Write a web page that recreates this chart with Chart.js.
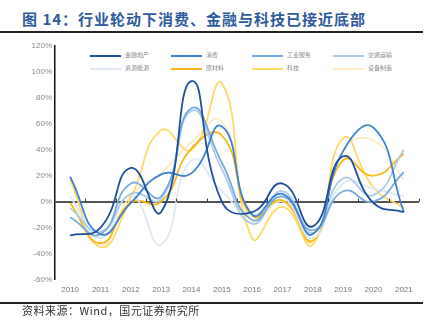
<!DOCTYPE html>
<html>
<head>
<meta charset="utf-8">
<script src="https://cdn.jsdelivr.net/npm/chart.js@4.4.0/dist/chart.umd.min.js"></script>
<style>
  html, body { margin: 0; padding: 0; background: #fff; }
  body { width: 437px; height: 330px; position: relative; overflow: hidden; font-family: "Noto Sans CJK SC", sans-serif; }
  #title { position: absolute; left: 22px; top: 8px; font-size: 15px; font-weight: bold; color: #2F5A9E; white-space: nowrap; letter-spacing: 1px; }
  .rule { position: absolute; left: 0; width: 423px; height: 2px; background: #222; }
  #source { position: absolute; left: 22px; top: 302px; font-size: 11px; color: #333; white-space: nowrap; letter-spacing: 0.5px; }
  #chartBox { position: absolute; left: 0; top: 0; width: 437px; height: 330px; }
  #legend { position: absolute; left: 0; top: 0; }
  .item { position: absolute; height: 8px; font-size: 6px; color: #888; white-space: nowrap; }
  .item span.ln { position: absolute; left: 0; top: 3px; width: 31px; height: 2px; }
  .item span.tx { position: absolute; left: 35px; top: -1px; line-height: 8px; }
</style>
</head>
<body>
<div id="title">图 14：行业轮动下消费、金融与科技已接近底部</div>
<div class="rule" style="top:31px"></div>
<div id="chartBox"><canvas id="chart" width="437" height="330"></canvas></div>
<div id="legend"></div>
<div class="rule" style="top:302px"></div>
<div id="source">资料来源：Wind，国元证券研究所</div>
<script>
// years on the x axis
const years = ['2010', '2011', '2012', '2013', '2014', '2015', '2016', '2017', '2018', '2019', '2020', '2021'];

// yearly values in %
const finance = [-26, -20, 26, -8, 93, 0, -8, 14, -19, 35, -1, -8];
const consumer = [19, -25, -1, 21, 22, 58, -10, 6, -25, 39, 57, -8];
const industrial = [-12, -25, 14, 4, 72, 30, -14, 4, -22, 8, 0, 23];
const transport = [-5, -23, 6, 2, 70, 25, -17, 8, -24, 18, 5, 40];
const energy = [4, -28, 5, -33, 32, 8, -10, 3, -28, 14, 10, 4];
const materials = [-1, -32, -1, 0, 41, 51, -11, 1, -30, 32, 20, 37];
const tech = [17, -35, 3, 55, 40, 91, -28, -4, -33, 49, 11, -5];
const equipment = [18, -33, 5, 22, 46, 62, -15, 0, -31, 40, 47, 17];

const seriesNames = ['金融地产', '消费', '工业服务', '交通运输', '资源能源', '原材料', '科技', '设备制造'];
const seriesData = [finance, consumer, industrial, transport, energy, materials, tech, equipment];
const seriesColors = ['#1F4E9E', '#3D82D4', '#78ABDF', '#ADCBEA', '#DDEAF6', '#F7B817', '#FFD966', '#FDEBC4'];

// legend (2 rows x 4 columns, inside the plot)
const legend = document.getElementById('legend');
seriesNames.forEach((name, i) => {
    const item = document.createElement('div');
    item.className = 'item';
    item.style.left = (90 + (i % 4) * 81) + 'px';
    item.style.top = (52 + Math.floor(i / 4) * 13) + 'px';
    item.innerHTML = `<span class="ln" style="background:${seriesColors[i]}"></span><span class="tx">${name}</span>`;
    legend.appendChild(item);
});

// small tick marks on the zero line, between the years
const zeroTicks = {
    id: 'zeroTicks',
    afterDatasetsDraw(chart) {
        const x = chart.scales.x, y = chart.scales.y;
        const y0 = y.getPixelForValue(0);
        const c = chart.ctx;
        c.save();
        c.strokeStyle = '#333';
        c.lineWidth = 1;
        for (let i = 1; i <= years.length; i++) {
            const px = Math.round((x.getPixelForValue(i - 1) + x.getPixelForValue(i)) / 2) + 0.5;
            c.beginPath();
            c.moveTo(px, y0 - 3);
            c.lineTo(px, y0);
            c.stroke();
        }
        c.restore();
    }
};

const ctx = document.getElementById('chart').getContext('2d');
new Chart(ctx, {
    type: 'line',
    data: {
        labels: years,
        datasets: seriesNames.map((name, i) => ({
            label: name,
            data: seriesData[i],
            borderColor: seriesColors[i],
            borderWidth: 1.8,
            pointRadius: 0,
            tension: 0.5,
            fill: false
        }))
    },
    options: {
        responsive: false,
        animation: false,
        layout: { padding: { left: 0, top: 46, right: 18, bottom: 34 } },
        plugins: { legend: { display: false }, tooltip: { enabled: false } },
        scales: {
            x: {
                offset: true,
                grid: { display: false, drawTicks: false },
                border: { display: false },
                ticks: { color: '#777', font: { size: 8, family: 'Liberation Sans' }, padding: 5, maxRotation: 0 },
                afterFit: scale => { scale.height = 16.5; }
            },
            y: {
                min: -60,
                max: 120,
                ticks: {
                    stepSize: 20,
                    color: '#888',
                    font: { size: 8, family: 'Liberation Sans' },
                    padding: 3,
                    callback: v => v + '%'
                },
                grid: {
                    drawTicks: false,
                    color: c => c.tick && c.tick.value === 0 ? '#555' : 'rgba(0,0,0,0)',
                    lineWidth: c => c.tick && c.tick.value === 0 ? 2 : 0
                },
                border: { color: '#111', width: 1.5 },
                afterFit: scale => { scale.width = 55; }
            }
        }
    },
    plugins: [zeroTicks]
});
</script>
</body>
</html>
